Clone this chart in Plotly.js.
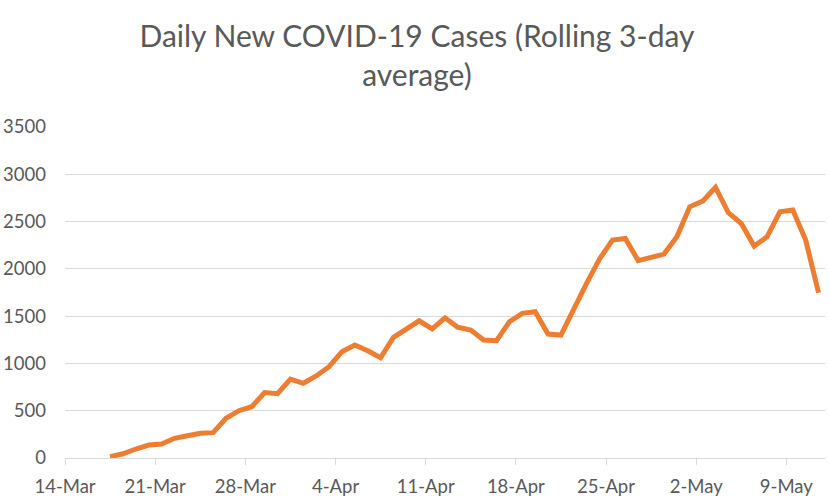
<!DOCTYPE html>
<html>
<head>
<meta charset="utf-8">
<script src="https://cdn.plot.ly/plotly-3.0.1.min.js"></script>
<style>html,body{margin:0;padding:0;background:#fff;}#chart{width:829px;height:500px;}</style>
</head>
<body>
<div id="chart"></div>
<script>
// Dates (one point per day, 17-Mar-2020 .. 11-May-2020)
const startDate = "2020-03-17";
const values = [
  14, 45, 95, 137, 148, 208, 236, 261, 268, 420,
  500, 542, 692, 680, 835, 790, 867, 965, 1124, 1195,
  1134, 1060, 1276, 1371, 1451, 1365, 1482, 1382, 1353, 1247,
  1240, 1441, 1530, 1547, 1311, 1300, 1580, 1850, 2105, 2304,
  2322, 2086, 2121, 2156, 2339, 2656, 2716, 2861, 2593, 2480,
  2241, 2339, 2604, 2622, 2304, 1747
];
const tickDates = ["2020-03-14","2020-03-21","2020-03-28","2020-04-04","2020-04-11","2020-04-18","2020-04-25","2020-05-02","2020-05-09"];
const tickLabels = ["14-Mar","21-Mar","28-Mar","4-Apr","11-Apr","18-Apr","25-Apr","2-May","9-May"];
const yTicks = [0, 500, 1000, 1500, 2000, 2500, 3000, 3500];

function dayList(start, n) {
  const out = [];
  const d0 = new Date(start + "T00:00:00Z");
  for (let i = 0; i < n; i++) {
    const d = new Date(d0.getTime() + i * 86400000);
    out.push(d.toISOString().slice(0, 10));
  }
  return out;
}
const dates = dayList(startDate, values.length);

const font = "Lato, 'Open Sans', 'Liberation Sans', sans-serif";
const trace = {
  x: dates, y: values, type: "scatter", mode: "lines",
  xperiod: 86400000, xperiodalignment: "middle",
  line: {color: "#ED7D31", width: 5},
  hoverinfo: "skip"
};
const layout = {
  width: 829, height: 500,
  margin: {l: 65, r: 4, t: 127, b: 42},
  paper_bgcolor: "#fff", plot_bgcolor: "#fff",
  showlegend: false,
  title: {
    text: "Daily New COVID-19 Cases (Rolling 3-day<br>average)",
    font: {family: font, size: 30, color: "#595959"},
    xref: "container", x: 0.503, xanchor: "center",
    yref: "container", y: 0.907, yanchor: "top"
  },
  xaxis: {
    type: "date",
    range: ["2020-03-14", "2020-05-12"],
    tickmode: "array", tickvals: tickDates, ticktext: tickLabels,
    showgrid: false, zeroline: false,
    showline: true, linecolor: "#d9d9d9", linewidth: 1,
    ticks: "outside", ticklen: 6, tickcolor: "#d9d9d9", tickwidth: 1,
    ticklabelstandoff: 6,
    tickfont: {family: font, size: 18.5, color: "#595959"}
  },
  yaxis: {
    range: [0, 3500],
    tickmode: "array", tickvals: yTicks,
    showgrid: true, gridcolor: "#d9d9d9", gridwidth: 1,
    zeroline: false, showline: false, ticks: "",
    ticklabelstandoff: 18,
    tickfont: {family: font, size: 18.5, color: "#595959"}
  }
};
Plotly.newPlot("chart", [trace], layout, {displayModeBar: false, staticPlot: true});
</script>
</body>
</html>
